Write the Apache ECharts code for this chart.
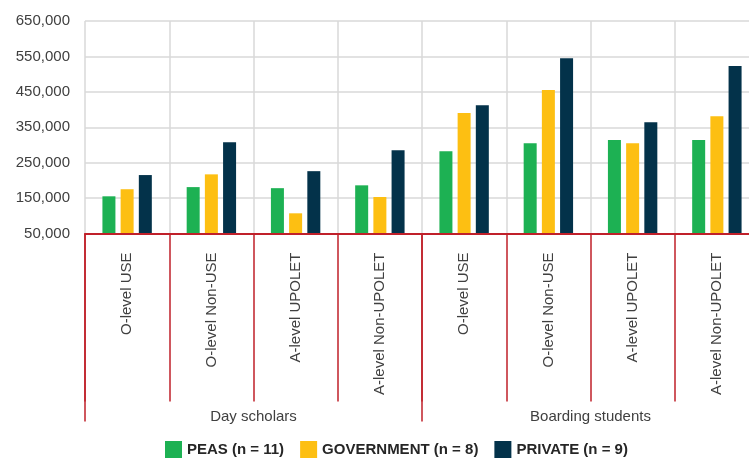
<!DOCTYPE html>
<html><head><meta charset="utf-8">
<script src="https://cdn.jsdelivr.net/npm/echarts@6/dist/echarts.min.js"></script>
<style>html,body{margin:0;padding:0;background:#fff}#c{width:749px;height:458px}</style>
</head><body><div id="c"></div>
<script>
const categories = ["O-level USE","O-level Non-USE","A-level UPOLET","A-level Non-UPOLET","O-level USE","O-level Non-USE","A-level UPOLET","A-level Non-UPOLET"];
const groups = ["Day scholars","Boarding students"];
const peas = [155000,181000,178000,186000,282000,305000,314000,314000];
const government = [175000,217000,107000,153000,390000,455000,305000,381000];
const privateS = [215000,308000,226000,285000,412000,545000,364000,523000];
const seriesNames = ["PEAS (n = 11)","GOVERNMENT (n = 8)","PRIVATE (n = 9)"];
const yTicks = {min:50000, max:650000, interval:100000};

const chart = echarts.init(document.getElementById('c'));
const red = '#C0202A', grid = '#D9D9D9', txt = '#404040';
const font = "'Liberation Sans', Arial, sans-serif";
chart.setOption({
  animation:false,
  grid:{left:85, top:21, width:674, height:212.5, containLabel:false, outerBoundsMode:'none'},
  legend:{top:436, left:160, padding:5, itemWidth:17, itemHeight:17, itemGap:16, itemTextGap:4, icon:'rect',
    textStyle:{fontFamily:"'Liberation Sans Narrow', 'Liberation Sans', sans-serif", fontWeight:'bold', fontSize:15, color:'#262626'}},
  xAxis:[
    {type:'category', data:categories, position:'bottom',
     axisLine:{show:true, onZero:false, lineStyle:{color:red, width:2}},
     axisTick:{show:true, length:168, lineStyle:{color:red, width:1.5}},
     axisLabel:{rotate:90, margin:19, fontFamily:font, fontSize:15, color:txt, interval:0},
     splitLine:{show:true, lineStyle:{color:grid, width:1.5}}, z:5},
    {type:'category', data:groups, position:'bottom',
     axisLine:{show:false},
     axisTick:{show:true, length:188, lineStyle:{color:red, width:1.5}},
     axisLabel:{margin:176, fontFamily:font, fontSize:15, color:txt, interval:0},
     splitLine:{show:false}}
  ],
  yAxis:{type:'value', min:yTicks.min, max:yTicks.max, interval:yTicks.interval,
    axisLine:{show:false}, axisTick:{show:false},
    axisLabel:{margin:15, fontFamily:font, fontSize:15, color:txt,
      formatter:v=>v.toLocaleString('en-US')},
    splitLine:{show:true, lineStyle:{color:grid, width:1.5}}},
  series:[
    {name:seriesNames[0], type:'bar', data:peas, barWidth:13, barGap:'40%', itemStyle:{color:'#1DB153'}},
    {name:seriesNames[1], type:'bar', data:government, barWidth:13, barGap:'40%', itemStyle:{color:'#FDBF12'}},
    {name:seriesNames[2], type:'bar', data:privateS, barWidth:13, barGap:'40%', itemStyle:{color:'#03324A'}}
  ]
});
</script></body></html>
